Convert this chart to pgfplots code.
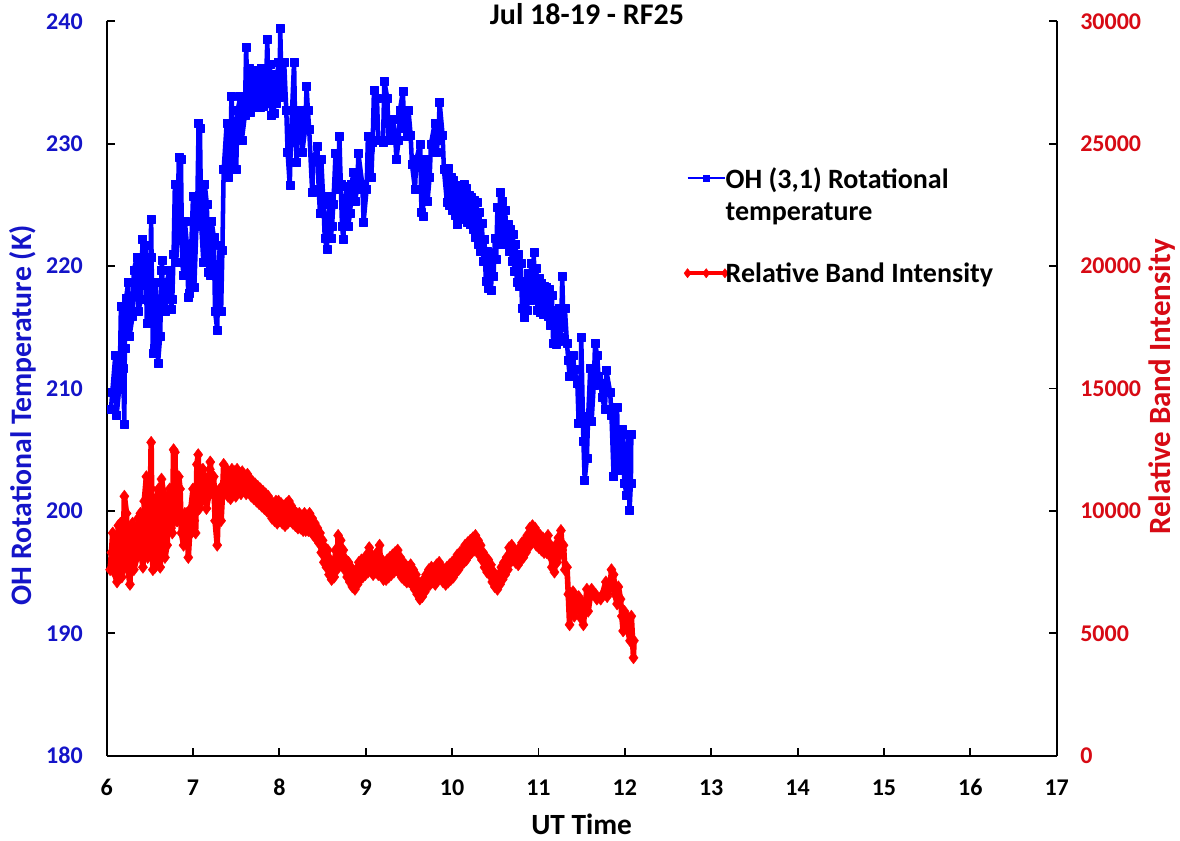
\documentclass[border=0pt]{standalone}
\usepackage{pgfplots}
\usepackage{pgfplotstable}
\pgfplotsset{compat=1.18}
\usepackage{fontspec}
\setmainfont{Carlito}
\definecolor{serblue}{RGB}{0,0,255}
\definecolor{labblue}{RGB}{20,20,200}
\definecolor{serred}{RGB}{255,0,0}
\definecolor{labred}{RGB}{215,10,20}

\pgfplotstableread{
x y
6.05 208.3
6.065 209.7
6.10 212.7
6.115 207.8
6.15 210.3
6.165 216.7
6.19 211.7
6.205 207.1
6.21 213.3
6.225 217.4
6.25 218.7
6.265 214.3
6.30 215.9
6.315 219.7
6.35 220.7
6.365 216.3
6.40 217.3
6.415 222.2
6.45 221.7
6.465 215.3
6.50 216.3
6.515 223.8
6.52 220.7
6.535 212.9
6.55 213.3
6.565 218.7
6.58 217.0
6.595 212.1
6.62 214.3
6.635 219.7
6.64 220.5
6.655 216.3
6.68 216.3
6.695 218.7
6.73 219.7
6.745 216.5
6.76 217.3
6.775 221.0
6.79 226.7
6.805 220.3
6.82 222.3
6.835 228.9
6.86 228.7
6.875 220.3
6.89 219.3
6.905 223.7
6.93 221.7
6.945 217.5
6.96 217.8
6.975 220.7
7.00 225.7
7.015 218.3
7.05 225.3
7.065 231.7
7.08 231.3
7.095 223.3
7.12 220.3
7.135 226.7
7.16 225.1
7.175 219.5
7.20 219.3
7.215 223.7
7.24 222.4
7.255 216.3
7.28 214.8
7.295 219.7
7.31 221.7
7.325 216.3
7.34 221.3
7.355 227.9
7.39 231.7
7.405 227.3
7.43 228.3
7.445 233.9
7.46 231.7
7.475 227.9
7.50 227.9
7.515 232.7
7.55 233.9
7.565 230.3
7.60 232.3
7.615 237.9
7.63 234.0
7.645 236.2
7.66 232.6
7.675 235.5
7.69 233.1
7.705 235.4
7.72 233.0
7.735 236.0
7.75 233.2
7.765 235.0
7.78 233.0
7.795 236.2
7.81 233.1
7.825 235.7
7.84 233.5
7.86 238.5
7.875 233.3
7.89 236.5
7.905 232.3
7.92 235.7
7.935 232.5
7.95 234.7
7.965 233.3
7.985 236.7
8.00 233.8
8.01 239.4
8.025 234.3
8.04 233.9
8.055 236.7
8.08 232.7
8.095 229.3
8.12 226.6
8.135 230.7
8.17 236.7
8.185 230.3
8.20 228.5
8.215 232.7
8.25 232.7
8.265 229.3
8.30 231.3
8.315 234.7
8.33 232.7
8.345 231.2
8.38 226.0
8.395 228.7
8.44 229.8
8.455 226.3
8.47 224.3
8.485 228.7
8.51 225.1
8.525 222.3
8.55 221.4
8.565 223.7
8.58 225.7
8.595 222.3
8.61 223.3
8.625 225.1
8.65 229.2
8.665 226.3
8.68 227.3
8.695 230.6
8.71 226.7
8.725 223.3
8.74 222.2
8.755 224.7
8.78 226.5
8.795 223.3
8.82 224.3
8.835 226.7
8.86 227.7
8.875 225.3
8.90 226.3
8.915 229.2
8.96 226.7
8.975 223.6
9.01 226.3
9.025 230.6
9.05 229.7
9.065 227.3
9.08 230.1
9.095 234.4
9.13 233.7
9.145 230.3
9.20 230.1
9.215 235.1
9.25 233.7
9.265 230.3
9.30 230.3
9.315 232.0
9.34 230.7
9.355 228.7
9.38 230.3
9.395 232.7
9.43 234.3
9.445 231.3
9.48 230.6
9.495 232.7
9.52 230.7
9.535 228.3
9.57 226.3
9.585 228.7
9.63 230.0
9.645 224.4
9.66 224.1
9.675 227.7
9.70 228.7
9.715 225.3
9.74 227.3
9.755 230.0
9.80 231.7
9.815 229.3
9.84 230.3
9.855 233.4
9.89 230.7
9.905 227.9
9.94 225.2
9.955 228.0
9.97 225.0
9.985 227.3
10.00 224.6
10.015 227.0
10.03 224.2
10.045 226.6
10.06 223.4
10.075 226.0
10.09 223.8
10.105 226.5
10.12 224.0
10.135 226.7
10.15 224.0
10.165 226.4
10.18 223.6
10.195 225.8
10.21 223.4
10.225 225.6
10.24 223.0
10.255 225.4
10.27 222.4
10.285 225.2
10.30 221.8
10.315 224.4
10.33 221.2
10.345 223.5
10.36 220.4
10.375 222.2
10.39 218.8
10.405 221.2
10.42 218.2
10.435 220.3
10.45 218.0
10.465 220.8
10.48 219.2
10.495 222.3
10.51 220.6
10.525 224.8
10.54 221.8
10.555 226.0
10.57 222.2
10.585 225.3
10.60 222.0
10.615 224.6
10.63 221.8
10.645 223.4
10.66 221.2
10.675 223.0
10.69 220.4
10.705 222.6
10.72 219.6
10.735 221.8
10.75 218.7
10.765 221.0
10.78 218.4
10.795 220.2
10.81 216.6
10.825 218.8
10.84 215.8
10.855 218.6
10.87 216.4
10.885 219.4
10.90 217.2
10.915 220.2
10.93 218.0
10.945 221.1
10.96 217.6
10.975 219.8
10.99 216.4
11.005 219.0
11.02 216.2
11.035 218.6
11.05 216.1
11.065 218.4
11.08 216.1
11.095 218.3
11.11 215.9
11.125 218.1
11.14 215.2
11.155 217.6
11.17 213.7
11.185 216.4
11.20 213.6
11.215 215.6
11.23 213.9
11.245 216.6
11.26 214.2
11.275 219.2
11.29 215.0
11.305 216.6
11.33 213.7
11.345 212.3
11.36 211.0
11.375 212.7
11.40 212.7
11.415 211.6
11.45 210.4
11.465 207.2
11.48 207.5
11.495 214.2
11.52 205.7
11.535 202.5
11.56 204.3
11.575 207.7
11.60 211.7
11.615 207.3
11.64 210.3
11.655 213.7
11.68 212.7
11.695 211.0
11.72 210.4
11.735 209.3
11.77 208.3
11.785 211.5
11.83 209.7
11.845 207.8
11.87 202.8
11.885 205.7
11.91 208.5
11.925 203.3
11.95 204.3
11.965 206.7
11.98 205.2
11.995 202.3
12.02 201.3
12.035 206.3
12.04 204.7
12.055 200.1
12.07 202.3
12.075 206.3
}\bluedata

\pgfplotstableread{
x y
6.04 7600
6.055 8300
6.07 9100
6.085 7500
6.12 7100
6.135 9400
6.16 9500
6.175 7300
6.19 8100
6.205 10600
6.23 9900
6.245 7600
6.27 7000
6.285 8900
6.30 9500
6.315 7600
6.35 8100
6.365 9700
6.39 9900
6.405 8100
6.42 7700
6.435 10400
6.46 11400
6.475 8100
6.50 9100
6.515 12800
6.52 10900
6.535 7600
6.56 7700
6.575 10400
6.60 10900
6.615 8600
6.62 7700
6.635 11300
6.66 10700
6.675 8100
6.70 8600
6.715 10400
6.73 10900
6.745 9300
6.76 9100
6.775 12500
6.79 12400
6.805 9600
6.82 9600
6.835 11400
6.85 10900
6.865 9100
6.89 8600
6.905 9900
6.93 9900
6.945 8100
6.96 9000
6.975 10100
7.00 10900
7.015 9600
7.03 9100
7.045 11900
7.06 12300
7.075 10100
7.10 10600
7.115 11700
7.14 11200
7.155 10100
7.18 10600
7.195 11700
7.20 12000
7.215 11100
7.24 11400
7.255 9600
7.28 8600
7.295 10400
7.31 10900
7.325 9600
7.34 10600
7.355 11900
7.39 11700
7.405 10600
7.42 11500
7.435 10500
7.45 11700
7.465 10700
7.48 11600
7.495 10600
7.51 11700
7.525 10800
7.54 11500
7.555 10700
7.57 11600
7.585 10900
7.60 11400
7.615 10700
7.63 11500
7.645 10800
7.66 11300
7.675 10600
7.69 11200
7.705 10500
7.72 11100
7.735 10400
7.75 11000
7.765 10300
7.78 10900
7.795 10200
7.81 10800
7.825 10100
7.84 10700
7.855 10000
7.87 10600
7.885 9900
7.90 10400
7.915 9700
7.93 10300
7.945 9600
7.96 10400
7.975 9500
7.99 10400
8.005 9600
8.02 10300
8.035 9500
8.05 10200
8.065 9400
8.08 10300
8.095 9500
8.11 10400
8.125 9600
8.14 10200
8.155 9500
8.17 10000
8.185 9400
8.20 9900
8.215 9300
8.23 9900
8.245 9300
8.26 9800
8.275 9200
8.29 9900
8.305 9200
8.32 9800
8.335 9200
8.35 9900
8.365 9300
8.38 9700
8.395 9000
8.41 9500
8.425 8900
8.44 9300
8.455 8700
8.47 9100
8.485 8300
8.50 8800
8.515 7900
8.53 8500
8.545 7700
8.56 8400
8.575 7400
8.59 8000
8.605 7200
8.62 7900
8.635 7300
8.65 8400
8.665 7600
8.68 9000
8.695 8100
8.71 8800
8.725 7800
8.74 8400
8.755 7600
8.77 8000
8.785 7300
8.80 7900
8.815 7100
8.83 7700
8.845 6900
8.86 7500
8.875 6800
8.89 7600
8.905 7000
8.92 7900
8.935 7200
8.95 8000
8.965 7300
8.98 7900
8.995 7400
9.01 8200
9.025 7500
9.04 8500
9.055 7600
9.07 8200
9.085 7400
9.10 8100
9.115 7500
9.13 8300
9.145 7400
9.16 8600
9.175 7500
9.19 8000
9.205 7200
9.22 7800
9.235 7200
9.25 8000
9.265 7300
9.28 8100
9.295 7400
9.31 8200
9.325 7500
9.34 8300
9.355 7600
9.37 8400
9.385 7500
9.40 8100
9.415 7300
9.43 7900
9.445 7200
9.46 7800
9.475 7100
9.49 7700
9.505 7100
9.52 7800
9.535 7000
9.55 7600
9.565 6800
9.58 7400
9.595 6600
9.61 7100
9.625 6400
9.64 7000
9.655 6500
9.67 7200
9.685 6700
9.70 7400
9.715 6900
9.73 7600
9.745 7000
9.76 7700
9.775 7100
9.79 7600
9.805 7000
9.82 7800
9.835 7200
9.85 7900
9.865 7300
9.88 7700
9.895 7100
9.91 7600
9.925 7000
9.94 7700
9.955 7100
9.97 7800
9.985 7200
10.00 7900
10.015 7300
10.03 8000
10.045 7500
10.06 8200
10.075 7600
10.09 8300
10.105 7800
10.12 8400
10.135 7900
10.15 8600
10.165 8000
10.18 8700
10.195 8200
10.21 8800
10.225 8300
10.24 8900
10.255 8400
10.27 9000
10.285 8400
10.30 8800
10.315 8200
10.33 8600
10.345 8000
10.36 8300
10.375 7700
10.39 8100
10.405 7500
10.42 8000
10.435 7400
10.45 7800
10.465 7100
10.48 7500
10.495 6900
10.51 7300
10.525 6800
10.54 7400
10.555 7000
10.57 7700
10.585 7200
10.60 7900
10.615 7400
10.63 8100
10.645 7600
10.66 8500
10.675 7900
10.69 8600
10.705 8000
10.72 8400
10.735 7900
10.75 8300
10.765 7800
10.78 8500
10.795 8000
10.81 8700
10.825 8100
10.84 8800
10.855 8300
10.87 9000
10.885 8500
10.90 9300
10.915 8700
10.93 9400
10.945 8900
10.96 9300
10.975 8600
10.99 9100
11.005 8500
11.02 9000
11.035 8400
11.05 8900
11.065 8300
11.08 8800
11.095 8300
11.11 9000
11.125 8200
11.14 8600
11.155 7700
11.17 8200
11.185 7500
11.20 8600
11.215 7900
11.23 8900
11.245 8200
11.26 9200
11.275 8400
11.29 8600
11.305 7600
11.33 7700
11.345 6600
11.36 5350
11.375 6500
11.40 6700
11.415 5700
11.45 6100
11.465 6500
11.48 6400
11.495 5600
11.52 5350
11.535 5900
11.56 6800
11.575 5900
11.60 6500
11.615 6800
11.66 6600
11.675 6400
11.72 6400
11.735 6550
11.78 7100
11.795 6500
11.83 6900
11.845 7600
11.87 7400
11.885 6600
11.91 6200
11.925 6900
11.95 6400
11.965 5700
11.98 5100
11.995 5900
12.02 5700
12.035 5100
12.06 4700
12.075 5700
12.10 4000
12.105 4700
}\reddata

\pgfplotsset{
  common/.style={
    scale only axis, width=712.5pt, height=550.8pt,
    xmin=6, xmax=17,
    tick align=inside,
    major tick length=6pt,
    minor tick num=0,
    axis line style={line width=1.4pt, black},
    tick style={line width=1.4pt, black},
    ticklabel style={font=\fontsize{18}{21}\selectfont\bfseries, inner sep=0pt},
    /pgf/number format/assume math mode=true,
    /pgf/number format/1000 sep={},
    scaled y ticks=false,
    clip=false,
  },
}

\begin{document}
\begin{tikzpicture}
\path[use as bounding box] (-80pt,-63.2pt) rectangle (805pt,566.8pt);

\begin{axis}[common,
  ymin=180, ymax=240,
  xtick={6,7,...,17},
  ytick={180,190,...,240},
  axis x line*=bottom, axis y line*=left,
  xticklabel style={anchor=center, yshift=-24pt, text=black},
  yticklabel style={anchor=east, xshift=-17.8pt, text=labblue},
  every axis x label/.style={at={(axis description cs:0.5,-0.093)}, anchor=center, font=\fontsize{22}{24}\selectfont\bfseries},
  every axis y label/.style={at={(axis description cs:-0.0887,0.4636)}, anchor=center, rotate=90, font=\fontsize{22.3}{24}\selectfont\bfseries, text=labblue},
  xlabel={UT Time},
  ylabel={OH Rotational Temperature (K)},
  every axis title/.style={at={(axis description cs:0.5056,1.010)}, anchor=center, font=\fontsize{22.5}{24}\selectfont\bfseries},
  title={Jul 18-19 - RF25},
]
\addplot[serblue, line width=3.4pt, line join=round, mark=square*, mark size=3pt, mark options={solid, fill=serblue, draw=serblue, line width=0.3pt}] table[x=x,y=y] {\bluedata};
\end{axis}

\begin{axis}[common,
  ymin=0, ymax=30000,
  ytick={0,5000,...,30000},
  axis y line*=right, axis x line=none,
  yticklabel style={anchor=west, xshift=17.5pt, text=labred},
  every axis y label/.style={at={(axis description cs:1.111,0.502)}, anchor=center, rotate=90, font=\fontsize{23.2}{24}\selectfont\bfseries, text=labred},
  ylabel={Relative Band Intensity},
  legend style={at={(axis description cs:0.6075,0.807)}, anchor=north west, draw=none, fill=none,
     font=\fontsize{21}{24}\selectfont\bfseries, row sep=50pt, inner sep=0pt,
     /tikz/every odd column/.append style={column sep=-4pt}},
  legend cell align=left,
  legend image code/.code={\draw[#1] plot coordinates {(0pt,0pt) (14pt,0pt) (28pt,0pt)};},
]
\addlegendimage{serblue, line width=1.8pt, mark=square*, mark size=1.6pt, mark repeat=2, mark phase=2, mark options={solid, fill=serblue}}
\addlegendentry{\begin{tabular}[t]{@{}l@{}}OH (3,1) Rotational\\temperature\end{tabular}}
\addplot[serred, line width=4.2pt, line join=round, mark=diamond*, mark size=4.6pt, mark options={solid, fill=serred, draw=serred, line width=0.3pt}, legend image post style={line width=3pt, mark size=3.5pt}] table[x=x,y=y] {\reddata};
\addlegendentry{Relative Band Intensity}
\end{axis}
\end{tikzpicture}
\end{document}
